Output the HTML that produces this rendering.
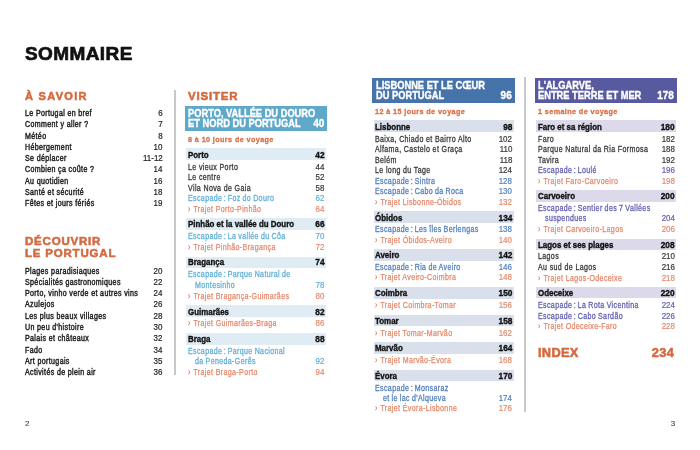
<!DOCTYPE html>
<html><head><meta charset="utf-8"><style>
html,body{margin:0;padding:0;background:#fff;}
body{width:700px;height:450px;position:relative;overflow:hidden;font-family:"Liberation Sans",sans-serif;}
.t{position:absolute;white-space:nowrap;line-height:1;-webkit-text-stroke:0.35px currentColor;}
.r{position:absolute;}
.cv{margin-right:0.6px;}
.wrap{position:absolute;left:0;top:0;width:700px;height:450px;will-change:transform;}
</style></head><body><div class="wrap">
<div class="t" style="left:25.00px;top:44px;font-size:19px;font-weight:bold;color:#111;letter-spacing:0.4px;-webkit-text-stroke-width:0.7px;">SOMMAIRE</div>
<div class="t" style="left:25.00px;top:91px;font-size:11px;font-weight:bold;color:#d5693f;letter-spacing:1.3px;-webkit-text-stroke-width:0.55px;">À SAVOIR</div>
<div class="t" style="left:25.00px;top:109px;font-size:8.6px;color:#222;letter-spacing:0.45px;transform:scaleX(0.82);transform-origin:left top;-webkit-text-stroke-width:0.45px;">Le Portugal en bref</div>
<div class="t" style="right:537.50px;text-align:right;top:109px;font-size:8.4px;color:#222;transform:scaleX(0.95);transform-origin:right top;-webkit-text-stroke-width:0.2px;">6</div>
<div class="t" style="left:25.00px;top:120px;font-size:8.6px;color:#222;letter-spacing:0.45px;transform:scaleX(0.82);transform-origin:left top;-webkit-text-stroke-width:0.45px;">Comment y aller ?</div>
<div class="t" style="right:537.50px;text-align:right;top:120px;font-size:8.4px;color:#222;transform:scaleX(0.95);transform-origin:right top;-webkit-text-stroke-width:0.2px;">7</div>
<div class="t" style="left:25.00px;top:132px;font-size:8.6px;color:#222;letter-spacing:0.45px;transform:scaleX(0.82);transform-origin:left top;-webkit-text-stroke-width:0.45px;">Météo</div>
<div class="t" style="right:537.50px;text-align:right;top:132px;font-size:8.4px;color:#222;transform:scaleX(0.95);transform-origin:right top;-webkit-text-stroke-width:0.2px;">8</div>
<div class="t" style="left:25.00px;top:143px;font-size:8.6px;color:#222;letter-spacing:0.45px;transform:scaleX(0.82);transform-origin:left top;-webkit-text-stroke-width:0.45px;">Hébergement</div>
<div class="t" style="right:537.50px;text-align:right;top:143px;font-size:8.4px;color:#222;transform:scaleX(0.95);transform-origin:right top;-webkit-text-stroke-width:0.2px;">10</div>
<div class="t" style="left:25.00px;top:154px;font-size:8.6px;color:#222;letter-spacing:0.45px;transform:scaleX(0.82);transform-origin:left top;-webkit-text-stroke-width:0.45px;">Se déplacer</div>
<div class="t" style="right:537.50px;text-align:right;top:154px;font-size:8.4px;color:#222;transform:scaleX(0.95);transform-origin:right top;-webkit-text-stroke-width:0.2px;">11-12</div>
<div class="t" style="left:25.00px;top:165px;font-size:8.6px;color:#222;letter-spacing:0.45px;transform:scaleX(0.82);transform-origin:left top;-webkit-text-stroke-width:0.45px;">Combien ça coûte ?</div>
<div class="t" style="right:537.50px;text-align:right;top:165px;font-size:8.4px;color:#222;transform:scaleX(0.95);transform-origin:right top;-webkit-text-stroke-width:0.2px;">14</div>
<div class="t" style="left:25.00px;top:177px;font-size:8.6px;color:#222;letter-spacing:0.45px;transform:scaleX(0.82);transform-origin:left top;-webkit-text-stroke-width:0.45px;">Au quotidien</div>
<div class="t" style="right:537.50px;text-align:right;top:177px;font-size:8.4px;color:#222;transform:scaleX(0.95);transform-origin:right top;-webkit-text-stroke-width:0.2px;">16</div>
<div class="t" style="left:25.00px;top:188px;font-size:8.6px;color:#222;letter-spacing:0.45px;transform:scaleX(0.82);transform-origin:left top;-webkit-text-stroke-width:0.45px;">Santé et sécurité</div>
<div class="t" style="right:537.50px;text-align:right;top:188px;font-size:8.4px;color:#222;transform:scaleX(0.95);transform-origin:right top;-webkit-text-stroke-width:0.2px;">18</div>
<div class="t" style="left:25.00px;top:199px;font-size:8.6px;color:#222;letter-spacing:0.45px;transform:scaleX(0.82);transform-origin:left top;-webkit-text-stroke-width:0.45px;">Fêtes et jours fériés</div>
<div class="t" style="right:537.50px;text-align:right;top:199px;font-size:8.4px;color:#222;transform:scaleX(0.95);transform-origin:right top;-webkit-text-stroke-width:0.2px;">19</div>
<div class="t" style="left:25.00px;top:236px;font-size:11.5px;font-weight:bold;color:#d5693f;letter-spacing:0.8px;-webkit-text-stroke-width:0.55px;">DÉCOUVRIR</div>
<div class="t" style="left:25.00px;top:248px;font-size:11.5px;font-weight:bold;color:#d5693f;letter-spacing:0.8px;-webkit-text-stroke-width:0.55px;">LE PORTUGAL</div>
<div class="t" style="left:25.00px;top:267px;font-size:8.6px;color:#222;letter-spacing:0.45px;transform:scaleX(0.82);transform-origin:left top;-webkit-text-stroke-width:0.45px;">Plages paradisiaques</div>
<div class="t" style="right:537.50px;text-align:right;top:267px;font-size:8.4px;color:#222;transform:scaleX(0.95);transform-origin:right top;-webkit-text-stroke-width:0.2px;">20</div>
<div class="t" style="left:25.00px;top:278px;font-size:8.6px;color:#222;letter-spacing:0.45px;transform:scaleX(0.82);transform-origin:left top;-webkit-text-stroke-width:0.45px;">Spécialités gastronomiques</div>
<div class="t" style="right:537.50px;text-align:right;top:278px;font-size:8.4px;color:#222;transform:scaleX(0.95);transform-origin:right top;-webkit-text-stroke-width:0.2px;">22</div>
<div class="t" style="left:25.00px;top:289px;font-size:8.6px;color:#222;letter-spacing:0.45px;transform:scaleX(0.82);transform-origin:left top;-webkit-text-stroke-width:0.45px;">Porto, vinho verde et autres vins</div>
<div class="t" style="right:537.50px;text-align:right;top:289px;font-size:8.4px;color:#222;transform:scaleX(0.95);transform-origin:right top;-webkit-text-stroke-width:0.2px;">24</div>
<div class="t" style="left:25.00px;top:300px;font-size:8.6px;color:#222;letter-spacing:0.45px;transform:scaleX(0.82);transform-origin:left top;-webkit-text-stroke-width:0.45px;">Azulejos</div>
<div class="t" style="right:537.50px;text-align:right;top:300px;font-size:8.4px;color:#222;transform:scaleX(0.95);transform-origin:right top;-webkit-text-stroke-width:0.2px;">26</div>
<div class="t" style="left:25.00px;top:312px;font-size:8.6px;color:#222;letter-spacing:0.45px;transform:scaleX(0.82);transform-origin:left top;-webkit-text-stroke-width:0.45px;">Les plus beaux villages</div>
<div class="t" style="right:537.50px;text-align:right;top:312px;font-size:8.4px;color:#222;transform:scaleX(0.95);transform-origin:right top;-webkit-text-stroke-width:0.2px;">28</div>
<div class="t" style="left:25.00px;top:323px;font-size:8.6px;color:#222;letter-spacing:0.45px;transform:scaleX(0.82);transform-origin:left top;-webkit-text-stroke-width:0.45px;">Un peu d'histoire</div>
<div class="t" style="right:537.50px;text-align:right;top:323px;font-size:8.4px;color:#222;transform:scaleX(0.95);transform-origin:right top;-webkit-text-stroke-width:0.2px;">30</div>
<div class="t" style="left:25.00px;top:334px;font-size:8.6px;color:#222;letter-spacing:0.45px;transform:scaleX(0.82);transform-origin:left top;-webkit-text-stroke-width:0.45px;">Palais et châteaux</div>
<div class="t" style="right:537.50px;text-align:right;top:334px;font-size:8.4px;color:#222;transform:scaleX(0.95);transform-origin:right top;-webkit-text-stroke-width:0.2px;">32</div>
<div class="t" style="left:25.00px;top:346px;font-size:8.6px;color:#222;letter-spacing:0.45px;transform:scaleX(0.82);transform-origin:left top;-webkit-text-stroke-width:0.45px;">Fado</div>
<div class="t" style="right:537.50px;text-align:right;top:346px;font-size:8.4px;color:#222;transform:scaleX(0.95);transform-origin:right top;-webkit-text-stroke-width:0.2px;">34</div>
<div class="t" style="left:25.00px;top:357px;font-size:8.6px;color:#222;letter-spacing:0.45px;transform:scaleX(0.82);transform-origin:left top;-webkit-text-stroke-width:0.45px;">Art portugais</div>
<div class="t" style="right:537.50px;text-align:right;top:357px;font-size:8.4px;color:#222;transform:scaleX(0.95);transform-origin:right top;-webkit-text-stroke-width:0.2px;">35</div>
<div class="t" style="left:25.00px;top:368px;font-size:8.6px;color:#222;letter-spacing:0.45px;transform:scaleX(0.82);transform-origin:left top;-webkit-text-stroke-width:0.45px;">Activités de plein air</div>
<div class="t" style="right:537.50px;text-align:right;top:368px;font-size:8.4px;color:#222;transform:scaleX(0.95);transform-origin:right top;-webkit-text-stroke-width:0.2px;">36</div>
<div class="r" style="left:174px;top:90px;width:2.00px;height:285.00px;background:#c8c8c8"></div>
<div class="r" style="left:524px;top:77px;width:2.00px;height:335.00px;background:#c8c8c8"></div>
<div class="t" style="left:188.00px;top:91px;font-size:11.5px;font-weight:bold;color:#d5693f;letter-spacing:0.8px;-webkit-text-stroke-width:0.55px;">VISITER</div>
<div class="r" style="left:185px;top:105.5px;width:142.00px;height:25.00px;background:#5ea9c9"></div>
<div class="t" style="left:188.30px;top:109px;font-size:10px;font-weight:bold;color:#fff;transform:scaleX(0.93);transform-origin:left top;">PORTO, VALLÉE DU DOURO</div>
<div class="t" style="left:188.30px;top:119px;font-size:10px;font-weight:bold;color:#fff;transform:scaleX(0.93);transform-origin:left top;">ET NORD DU PORTUGAL</div>
<div class="t" style="right:375.70px;text-align:right;top:119px;font-size:10px;font-weight:bold;color:#fff;">40</div>
<div class="t" style="left:187.80px;top:136px;font-size:8px;font-weight:bold;color:#db6f47;letter-spacing:0.45px;transform:scaleX(0.9);transform-origin:left top;-webkit-text-stroke-width:0.3px;">8 à 10 jours de voyage</div>
<div class="r" style="left:186.3px;top:148px;width:139.70px;height:12.00px;background:#dfecf3"></div>
<div class="t" style="left:188.00px;top:151px;font-size:8.3px;font-weight:bold;color:#111;transform:scaleX(0.955);transform-origin:left top;">Porto</div>
<div class="t" style="right:375.50px;text-align:right;top:151px;font-size:8.3px;font-weight:bold;color:#111;">42</div>
<div class="t" style="left:188.00px;top:163px;font-size:8.6px;color:#383838;letter-spacing:0.45px;transform:scaleX(0.82);transform-origin:left top;-webkit-text-stroke-width:0.3px;">Le vieux Porto</div>
<div class="t" style="right:375.50px;text-align:right;top:163px;font-size:8.4px;color:#383838;transform:scaleX(0.95);transform-origin:right top;-webkit-text-stroke-width:0.21px;">44</div>
<div class="t" style="left:188.00px;top:173px;font-size:8.6px;color:#383838;letter-spacing:0.45px;transform:scaleX(0.82);transform-origin:left top;-webkit-text-stroke-width:0.3px;">Le centre</div>
<div class="t" style="right:375.50px;text-align:right;top:173px;font-size:8.4px;color:#383838;transform:scaleX(0.95);transform-origin:right top;-webkit-text-stroke-width:0.21px;">52</div>
<div class="t" style="left:188.00px;top:184px;font-size:8.6px;color:#383838;letter-spacing:0.45px;transform:scaleX(0.82);transform-origin:left top;-webkit-text-stroke-width:0.3px;">Vila Nova de Gaia</div>
<div class="t" style="right:375.50px;text-align:right;top:184px;font-size:8.4px;color:#383838;transform:scaleX(0.95);transform-origin:right top;-webkit-text-stroke-width:0.21px;">58</div>
<div class="t" style="left:188.00px;top:194px;font-size:8.6px;color:#62b0d6;word-spacing:-0.4px;letter-spacing:0.45px;transform:scaleX(0.82);transform-origin:left top;-webkit-text-stroke-width:0.3px;">Escapade&#8198;:&#8198;Foz do Douro</div>
<div class="t" style="right:375.50px;text-align:right;top:194px;font-size:8.4px;color:#62b0d6;transform:scaleX(0.95);transform-origin:right top;-webkit-text-stroke-width:0.21px;">62</div>
<div class="t" style="left:188.00px;top:205px;font-size:8.6px;color:#e4876a;letter-spacing:0.45px;transform:scaleX(0.82);transform-origin:left top;-webkit-text-stroke-width:0.25px;"><span class="cv">›</span> Trajet Porto-Pinhão</div>
<div class="t" style="right:375.50px;text-align:right;top:205px;font-size:8.4px;color:#e4876a;transform:scaleX(0.95);transform-origin:right top;-webkit-text-stroke-width:0.175px;">64</div>
<div class="r" style="left:186.3px;top:218px;width:139.70px;height:12.00px;background:#dfecf3"></div>
<div class="t" style="left:188.00px;top:220px;font-size:8.3px;font-weight:bold;color:#111;transform:scaleX(0.955);transform-origin:left top;">Pinhão et la vallée du Douro</div>
<div class="t" style="right:375.50px;text-align:right;top:220px;font-size:8.3px;font-weight:bold;color:#111;">66</div>
<div class="t" style="left:188.00px;top:232px;font-size:8.6px;color:#62b0d6;word-spacing:-0.4px;letter-spacing:0.45px;transform:scaleX(0.82);transform-origin:left top;-webkit-text-stroke-width:0.3px;">Escapade&#8198;:&#8198;La vallée du Côa</div>
<div class="t" style="right:375.50px;text-align:right;top:232px;font-size:8.4px;color:#62b0d6;transform:scaleX(0.95);transform-origin:right top;-webkit-text-stroke-width:0.21px;">70</div>
<div class="t" style="left:188.00px;top:243px;font-size:8.6px;color:#e4876a;letter-spacing:0.45px;transform:scaleX(0.82);transform-origin:left top;-webkit-text-stroke-width:0.25px;"><span class="cv">›</span> Trajet Pinhão-Bragança</div>
<div class="t" style="right:375.50px;text-align:right;top:243px;font-size:8.4px;color:#e4876a;transform:scaleX(0.95);transform-origin:right top;-webkit-text-stroke-width:0.175px;">72</div>
<div class="r" style="left:186.3px;top:257px;width:139.70px;height:11.00px;background:#dfecf3"></div>
<div class="t" style="left:188.00px;top:258px;font-size:8.3px;font-weight:bold;color:#111;transform:scaleX(0.955);transform-origin:left top;">Bragança</div>
<div class="t" style="right:375.50px;text-align:right;top:258px;font-size:8.3px;font-weight:bold;color:#111;">74</div>
<div class="t" style="left:188.00px;top:270px;font-size:8.6px;color:#62b0d6;word-spacing:-0.4px;letter-spacing:0.45px;transform:scaleX(0.82);transform-origin:left top;-webkit-text-stroke-width:0.3px;">Escapade&#8198;:&#8198;Parque Natural de</div>
<div class="t" style="left:194.80px;top:281px;font-size:8.6px;color:#62b0d6;word-spacing:-0.4px;letter-spacing:0.45px;transform:scaleX(0.82);transform-origin:left top;-webkit-text-stroke-width:0.3px;">Montesinho</div>
<div class="t" style="right:375.50px;text-align:right;top:281px;font-size:8.4px;color:#62b0d6;transform:scaleX(0.95);transform-origin:right top;-webkit-text-stroke-width:0.21px;">78</div>
<div class="t" style="left:188.00px;top:292px;font-size:8.6px;color:#e4876a;letter-spacing:0.45px;transform:scaleX(0.82);transform-origin:left top;-webkit-text-stroke-width:0.25px;"><span class="cv">›</span> Trajet Bragança-Guimarães</div>
<div class="t" style="right:375.50px;text-align:right;top:292px;font-size:8.4px;color:#e4876a;transform:scaleX(0.95);transform-origin:right top;-webkit-text-stroke-width:0.175px;">80</div>
<div class="r" style="left:186.3px;top:305px;width:139.70px;height:12.00px;background:#dfecf3"></div>
<div class="t" style="left:188.00px;top:308px;font-size:8.3px;font-weight:bold;color:#111;transform:scaleX(0.955);transform-origin:left top;">Guimarães</div>
<div class="t" style="right:375.50px;text-align:right;top:308px;font-size:8.3px;font-weight:bold;color:#111;">82</div>
<div class="t" style="left:188.00px;top:319px;font-size:8.6px;color:#e4876a;letter-spacing:0.45px;transform:scaleX(0.82);transform-origin:left top;-webkit-text-stroke-width:0.25px;"><span class="cv">›</span> Trajet Guimarães-Braga</div>
<div class="t" style="right:375.50px;text-align:right;top:319px;font-size:8.4px;color:#e4876a;transform:scaleX(0.95);transform-origin:right top;-webkit-text-stroke-width:0.175px;">86</div>
<div class="r" style="left:186.3px;top:333px;width:139.70px;height:12.00px;background:#dfecf3"></div>
<div class="t" style="left:188.00px;top:335px;font-size:8.3px;font-weight:bold;color:#111;transform:scaleX(0.955);transform-origin:left top;">Braga</div>
<div class="t" style="right:375.50px;text-align:right;top:335px;font-size:8.3px;font-weight:bold;color:#111;">88</div>
<div class="t" style="left:188.00px;top:347px;font-size:8.6px;color:#62b0d6;word-spacing:-0.4px;letter-spacing:0.45px;transform:scaleX(0.82);transform-origin:left top;-webkit-text-stroke-width:0.3px;">Escapade&#8198;:&#8198;Parque Nacional</div>
<div class="t" style="left:194.80px;top:357px;font-size:8.6px;color:#62b0d6;word-spacing:-0.4px;letter-spacing:0.45px;transform:scaleX(0.82);transform-origin:left top;-webkit-text-stroke-width:0.3px;">da Peneda-Gerês</div>
<div class="t" style="right:375.50px;text-align:right;top:357px;font-size:8.4px;color:#62b0d6;transform:scaleX(0.95);transform-origin:right top;-webkit-text-stroke-width:0.21px;">92</div>
<div class="t" style="left:188.00px;top:368px;font-size:8.6px;color:#e4876a;letter-spacing:0.45px;transform:scaleX(0.82);transform-origin:left top;-webkit-text-stroke-width:0.25px;"><span class="cv">›</span> Trajet Braga-Porto</div>
<div class="t" style="right:375.50px;text-align:right;top:368px;font-size:8.4px;color:#e4876a;transform:scaleX(0.95);transform-origin:right top;-webkit-text-stroke-width:0.175px;">94</div>
<div class="r" style="left:372.3px;top:77.8px;width:142.50px;height:25.00px;background:#4773ab"></div>
<div class="t" style="left:375.60px;top:81px;font-size:10px;font-weight:bold;color:#fff;transform:scaleX(0.93);transform-origin:left top;">LISBONNE ET LE CŒUR</div>
<div class="t" style="left:375.60px;top:91px;font-size:10px;font-weight:bold;color:#fff;transform:scaleX(0.93);transform-origin:left top;">DU PORTUGAL</div>
<div class="t" style="right:188.30px;text-align:right;top:91px;font-size:10px;font-weight:bold;color:#fff;">96</div>
<div class="t" style="left:375.30px;top:108px;font-size:8px;font-weight:bold;color:#db6f47;letter-spacing:0.45px;transform:scaleX(0.9);transform-origin:left top;-webkit-text-stroke-width:0.3px;">12 à 15 jours de voyage</div>
<div class="r" style="left:373.7px;top:120px;width:139.90px;height:12.00px;background:#d9e0ec"></div>
<div class="t" style="left:375.30px;top:123px;font-size:8.3px;font-weight:bold;color:#111;transform:scaleX(0.955);transform-origin:left top;">Lisbonne</div>
<div class="t" style="right:187.60px;text-align:right;top:123px;font-size:8.3px;font-weight:bold;color:#111;">98</div>
<div class="t" style="left:375.30px;top:135px;font-size:8.6px;color:#383838;letter-spacing:0.45px;transform:scaleX(0.82);transform-origin:left top;-webkit-text-stroke-width:0.3px;">Baixa, Chiado et Bairro Alto</div>
<div class="t" style="right:187.60px;text-align:right;top:135px;font-size:8.4px;color:#383838;transform:scaleX(0.95);transform-origin:right top;-webkit-text-stroke-width:0.21px;">102</div>
<div class="t" style="left:375.30px;top:145px;font-size:8.6px;color:#383838;letter-spacing:0.45px;transform:scaleX(0.82);transform-origin:left top;-webkit-text-stroke-width:0.3px;">Alfama, Castelo et Graça</div>
<div class="t" style="right:187.60px;text-align:right;top:145px;font-size:8.4px;color:#383838;transform:scaleX(0.95);transform-origin:right top;-webkit-text-stroke-width:0.21px;">110</div>
<div class="t" style="left:375.30px;top:156px;font-size:8.6px;color:#383838;letter-spacing:0.45px;transform:scaleX(0.82);transform-origin:left top;-webkit-text-stroke-width:0.3px;">Belém</div>
<div class="t" style="right:187.60px;text-align:right;top:156px;font-size:8.4px;color:#383838;transform:scaleX(0.95);transform-origin:right top;-webkit-text-stroke-width:0.21px;">118</div>
<div class="t" style="left:375.30px;top:166px;font-size:8.6px;color:#383838;letter-spacing:0.45px;transform:scaleX(0.82);transform-origin:left top;-webkit-text-stroke-width:0.3px;">Le long du Tage</div>
<div class="t" style="right:187.60px;text-align:right;top:166px;font-size:8.4px;color:#383838;transform:scaleX(0.95);transform-origin:right top;-webkit-text-stroke-width:0.21px;">124</div>
<div class="t" style="left:375.30px;top:177px;font-size:8.6px;color:#5580bf;word-spacing:-0.4px;letter-spacing:0.45px;transform:scaleX(0.82);transform-origin:left top;-webkit-text-stroke-width:0.3px;">Escapade&#8198;:&#8198;Sintra</div>
<div class="t" style="right:187.60px;text-align:right;top:177px;font-size:8.4px;color:#5580bf;transform:scaleX(0.95);transform-origin:right top;-webkit-text-stroke-width:0.21px;">128</div>
<div class="t" style="left:375.30px;top:187px;font-size:8.6px;color:#5580bf;word-spacing:-0.4px;letter-spacing:0.45px;transform:scaleX(0.82);transform-origin:left top;-webkit-text-stroke-width:0.3px;">Escapade&#8198;:&#8198;Cabo da Roca</div>
<div class="t" style="right:187.60px;text-align:right;top:187px;font-size:8.4px;color:#5580bf;transform:scaleX(0.95);transform-origin:right top;-webkit-text-stroke-width:0.21px;">130</div>
<div class="t" style="left:375.30px;top:198px;font-size:8.6px;color:#e4876a;letter-spacing:0.45px;transform:scaleX(0.82);transform-origin:left top;-webkit-text-stroke-width:0.25px;"><span class="cv">›</span> Trajet Lisbonne-Óbidos</div>
<div class="t" style="right:187.60px;text-align:right;top:198px;font-size:8.4px;color:#e4876a;transform:scaleX(0.95);transform-origin:right top;-webkit-text-stroke-width:0.175px;">132</div>
<div class="r" style="left:373.7px;top:211px;width:139.90px;height:12.00px;background:#d9e0ec"></div>
<div class="t" style="left:375.30px;top:214px;font-size:8.3px;font-weight:bold;color:#111;transform:scaleX(0.955);transform-origin:left top;">Óbidos</div>
<div class="t" style="right:187.60px;text-align:right;top:214px;font-size:8.3px;font-weight:bold;color:#111;">134</div>
<div class="t" style="left:375.30px;top:225px;font-size:8.6px;color:#5580bf;word-spacing:-0.4px;letter-spacing:0.45px;transform:scaleX(0.82);transform-origin:left top;-webkit-text-stroke-width:0.3px;">Escapade&#8198;:&#8198;Les îles Berlengas</div>
<div class="t" style="right:187.60px;text-align:right;top:225px;font-size:8.4px;color:#5580bf;transform:scaleX(0.95);transform-origin:right top;-webkit-text-stroke-width:0.21px;">138</div>
<div class="t" style="left:375.30px;top:236px;font-size:8.6px;color:#e4876a;letter-spacing:0.45px;transform:scaleX(0.82);transform-origin:left top;-webkit-text-stroke-width:0.25px;"><span class="cv">›</span> Trajet Óbidos-Aveiro</div>
<div class="t" style="right:187.60px;text-align:right;top:236px;font-size:8.4px;color:#e4876a;transform:scaleX(0.95);transform-origin:right top;-webkit-text-stroke-width:0.175px;">140</div>
<div class="r" style="left:373.7px;top:249px;width:139.90px;height:12.00px;background:#d9e0ec"></div>
<div class="t" style="left:375.30px;top:251px;font-size:8.3px;font-weight:bold;color:#111;transform:scaleX(0.955);transform-origin:left top;">Aveiro</div>
<div class="t" style="right:187.60px;text-align:right;top:251px;font-size:8.3px;font-weight:bold;color:#111;">142</div>
<div class="t" style="left:375.30px;top:263px;font-size:8.6px;color:#5580bf;word-spacing:-0.4px;letter-spacing:0.45px;transform:scaleX(0.82);transform-origin:left top;-webkit-text-stroke-width:0.3px;">Escapade&#8198;:&#8198;Ria de Aveiro</div>
<div class="t" style="right:187.60px;text-align:right;top:263px;font-size:8.4px;color:#5580bf;transform:scaleX(0.95);transform-origin:right top;-webkit-text-stroke-width:0.21px;">146</div>
<div class="t" style="left:375.30px;top:273px;font-size:8.6px;color:#e4876a;letter-spacing:0.45px;transform:scaleX(0.82);transform-origin:left top;-webkit-text-stroke-width:0.25px;"><span class="cv">›</span> Trajet Aveiro-Coimbra</div>
<div class="t" style="right:187.60px;text-align:right;top:273px;font-size:8.4px;color:#e4876a;transform:scaleX(0.95);transform-origin:right top;-webkit-text-stroke-width:0.175px;">148</div>
<div class="r" style="left:373.7px;top:287px;width:139.90px;height:12.00px;background:#d9e0ec"></div>
<div class="t" style="left:375.30px;top:289px;font-size:8.3px;font-weight:bold;color:#111;transform:scaleX(0.955);transform-origin:left top;">Coimbra</div>
<div class="t" style="right:187.60px;text-align:right;top:289px;font-size:8.3px;font-weight:bold;color:#111;">150</div>
<div class="t" style="left:375.30px;top:301px;font-size:8.6px;color:#e4876a;letter-spacing:0.45px;transform:scaleX(0.82);transform-origin:left top;-webkit-text-stroke-width:0.25px;"><span class="cv">›</span> Trajet Coimbra-Tomar</div>
<div class="t" style="right:187.60px;text-align:right;top:301px;font-size:8.4px;color:#e4876a;transform:scaleX(0.95);transform-origin:right top;-webkit-text-stroke-width:0.175px;">156</div>
<div class="r" style="left:373.7px;top:315px;width:139.90px;height:11.00px;background:#d9e0ec"></div>
<div class="t" style="left:375.30px;top:317px;font-size:8.3px;font-weight:bold;color:#111;transform:scaleX(0.955);transform-origin:left top;">Tomar</div>
<div class="t" style="right:187.60px;text-align:right;top:317px;font-size:8.3px;font-weight:bold;color:#111;">158</div>
<div class="t" style="left:375.30px;top:329px;font-size:8.6px;color:#e4876a;letter-spacing:0.45px;transform:scaleX(0.82);transform-origin:left top;-webkit-text-stroke-width:0.25px;"><span class="cv">›</span> Trajet Tomar-Marvão</div>
<div class="t" style="right:187.60px;text-align:right;top:329px;font-size:8.4px;color:#e4876a;transform:scaleX(0.95);transform-origin:right top;-webkit-text-stroke-width:0.175px;">162</div>
<div class="r" style="left:373.7px;top:342px;width:139.90px;height:12.00px;background:#d9e0ec"></div>
<div class="t" style="left:375.30px;top:344px;font-size:8.3px;font-weight:bold;color:#111;transform:scaleX(0.955);transform-origin:left top;">Marvão</div>
<div class="t" style="right:187.60px;text-align:right;top:344px;font-size:8.3px;font-weight:bold;color:#111;">164</div>
<div class="t" style="left:375.30px;top:356px;font-size:8.6px;color:#e4876a;letter-spacing:0.45px;transform:scaleX(0.82);transform-origin:left top;-webkit-text-stroke-width:0.25px;"><span class="cv">›</span> Trajet Marvão-Évora</div>
<div class="t" style="right:187.60px;text-align:right;top:356px;font-size:8.4px;color:#e4876a;transform:scaleX(0.95);transform-origin:right top;-webkit-text-stroke-width:0.175px;">168</div>
<div class="r" style="left:373.7px;top:370px;width:139.90px;height:11.00px;background:#d9e0ec"></div>
<div class="t" style="left:375.30px;top:372px;font-size:8.3px;font-weight:bold;color:#111;transform:scaleX(0.955);transform-origin:left top;">Évora</div>
<div class="t" style="right:187.60px;text-align:right;top:372px;font-size:8.3px;font-weight:bold;color:#111;">170</div>
<div class="t" style="left:375.30px;top:384px;font-size:8.6px;color:#5580bf;word-spacing:-0.4px;letter-spacing:0.45px;transform:scaleX(0.82);transform-origin:left top;-webkit-text-stroke-width:0.3px;">Escapade&#8198;:&#8198;Monsaraz</div>
<div class="t" style="left:382.80px;top:394px;font-size:8.6px;color:#5580bf;word-spacing:-0.4px;letter-spacing:0.45px;transform:scaleX(0.82);transform-origin:left top;-webkit-text-stroke-width:0.3px;">et le lac d'Alqueva</div>
<div class="t" style="right:187.60px;text-align:right;top:394px;font-size:8.4px;color:#5580bf;transform:scaleX(0.95);transform-origin:right top;-webkit-text-stroke-width:0.21px;">174</div>
<div class="t" style="left:375.30px;top:404px;font-size:8.6px;color:#e4876a;letter-spacing:0.45px;transform:scaleX(0.82);transform-origin:left top;-webkit-text-stroke-width:0.25px;"><span class="cv">›</span> Trajet Évora-Lisbonne</div>
<div class="t" style="right:187.60px;text-align:right;top:404px;font-size:8.4px;color:#e4876a;transform:scaleX(0.95);transform-origin:right top;-webkit-text-stroke-width:0.175px;">176</div>
<div class="r" style="left:535px;top:77.8px;width:142.10px;height:25.10px;background:#585aa0"></div>
<div class="t" style="left:537.80px;top:81px;font-size:10px;font-weight:bold;color:#fff;transform:scaleX(0.93);transform-origin:left top;">L'ALGARVE,</div>
<div class="t" style="left:537.80px;top:91px;font-size:10px;font-weight:bold;color:#fff;transform:scaleX(0.93);transform-origin:left top;">ENTRE TERRE ET MER</div>
<div class="t" style="right:26.10px;text-align:right;top:91px;font-size:10px;font-weight:bold;color:#fff;">178</div>
<div class="t" style="left:538.00px;top:108px;font-size:8px;font-weight:bold;color:#db6f47;letter-spacing:0.45px;transform:scaleX(0.9);transform-origin:left top;-webkit-text-stroke-width:0.3px;">1 semaine de voyage</div>
<div class="r" style="left:535.7px;top:120px;width:140.10px;height:12.00px;background:#dcdaea"></div>
<div class="t" style="left:538.00px;top:123px;font-size:8.3px;font-weight:bold;color:#111;transform:scaleX(0.955);transform-origin:left top;">Faro et sa région</div>
<div class="t" style="right:25.50px;text-align:right;top:123px;font-size:8.3px;font-weight:bold;color:#111;">180</div>
<div class="t" style="left:538.00px;top:135px;font-size:8.6px;color:#383838;letter-spacing:0.45px;transform:scaleX(0.82);transform-origin:left top;-webkit-text-stroke-width:0.3px;">Faro</div>
<div class="t" style="right:25.50px;text-align:right;top:135px;font-size:8.4px;color:#383838;transform:scaleX(0.95);transform-origin:right top;-webkit-text-stroke-width:0.21px;">182</div>
<div class="t" style="left:538.00px;top:145px;font-size:8.6px;color:#383838;letter-spacing:0.45px;transform:scaleX(0.82);transform-origin:left top;-webkit-text-stroke-width:0.3px;">Parque Natural da Ria Formosa</div>
<div class="t" style="right:25.50px;text-align:right;top:145px;font-size:8.4px;color:#383838;transform:scaleX(0.95);transform-origin:right top;-webkit-text-stroke-width:0.21px;">188</div>
<div class="t" style="left:538.00px;top:156px;font-size:8.6px;color:#383838;letter-spacing:0.45px;transform:scaleX(0.82);transform-origin:left top;-webkit-text-stroke-width:0.3px;">Tavira</div>
<div class="t" style="right:25.50px;text-align:right;top:156px;font-size:8.4px;color:#383838;transform:scaleX(0.95);transform-origin:right top;-webkit-text-stroke-width:0.21px;">192</div>
<div class="t" style="left:538.00px;top:166px;font-size:8.6px;color:#6462b2;word-spacing:-0.4px;letter-spacing:0.45px;transform:scaleX(0.82);transform-origin:left top;-webkit-text-stroke-width:0.3px;">Escapade&#8198;:&#8198;Loulé</div>
<div class="t" style="right:25.50px;text-align:right;top:166px;font-size:8.4px;color:#6462b2;transform:scaleX(0.95);transform-origin:right top;-webkit-text-stroke-width:0.21px;">196</div>
<div class="t" style="left:538.00px;top:177px;font-size:8.6px;color:#e4876a;letter-spacing:0.45px;transform:scaleX(0.82);transform-origin:left top;-webkit-text-stroke-width:0.25px;"><span class="cv">›</span> Trajet Faro-Carvoeiro</div>
<div class="t" style="right:25.50px;text-align:right;top:177px;font-size:8.4px;color:#e4876a;transform:scaleX(0.95);transform-origin:right top;-webkit-text-stroke-width:0.175px;">198</div>
<div class="r" style="left:535.7px;top:190px;width:140.10px;height:12.00px;background:#dcdaea"></div>
<div class="t" style="left:538.00px;top:192px;font-size:8.3px;font-weight:bold;color:#111;transform:scaleX(0.955);transform-origin:left top;">Carvoeiro</div>
<div class="t" style="right:25.50px;text-align:right;top:192px;font-size:8.3px;font-weight:bold;color:#111;">200</div>
<div class="t" style="left:538.00px;top:204px;font-size:8.6px;color:#6462b2;word-spacing:-0.4px;letter-spacing:0.45px;transform:scaleX(0.82);transform-origin:left top;-webkit-text-stroke-width:0.3px;">Escapade&#8198;:&#8198;Sentier des 7 Vallées</div>
<div class="t" style="left:545.00px;top:214px;font-size:8.6px;color:#6462b2;word-spacing:-0.4px;letter-spacing:0.45px;transform:scaleX(0.82);transform-origin:left top;-webkit-text-stroke-width:0.3px;">suspendues</div>
<div class="t" style="right:25.50px;text-align:right;top:214px;font-size:8.4px;color:#6462b2;transform:scaleX(0.95);transform-origin:right top;-webkit-text-stroke-width:0.21px;">204</div>
<div class="t" style="left:538.00px;top:225px;font-size:8.6px;color:#e4876a;letter-spacing:0.45px;transform:scaleX(0.82);transform-origin:left top;-webkit-text-stroke-width:0.25px;"><span class="cv">›</span> Trajet Carvoeiro-Lagos</div>
<div class="t" style="right:25.50px;text-align:right;top:225px;font-size:8.4px;color:#e4876a;transform:scaleX(0.95);transform-origin:right top;-webkit-text-stroke-width:0.175px;">206</div>
<div class="r" style="left:535.7px;top:239px;width:140.10px;height:11.00px;background:#dcdaea"></div>
<div class="t" style="left:538.00px;top:241px;font-size:8.3px;font-weight:bold;color:#111;transform:scaleX(0.955);transform-origin:left top;">Lagos et ses plages</div>
<div class="t" style="right:25.50px;text-align:right;top:241px;font-size:8.3px;font-weight:bold;color:#111;">208</div>
<div class="t" style="left:538.00px;top:252px;font-size:8.6px;color:#383838;letter-spacing:0.45px;transform:scaleX(0.82);transform-origin:left top;-webkit-text-stroke-width:0.3px;">Lagos</div>
<div class="t" style="right:25.50px;text-align:right;top:252px;font-size:8.4px;color:#383838;transform:scaleX(0.95);transform-origin:right top;-webkit-text-stroke-width:0.21px;">210</div>
<div class="t" style="left:538.00px;top:263px;font-size:8.6px;color:#383838;letter-spacing:0.45px;transform:scaleX(0.82);transform-origin:left top;-webkit-text-stroke-width:0.3px;">Au sud de Lagos</div>
<div class="t" style="right:25.50px;text-align:right;top:263px;font-size:8.4px;color:#383838;transform:scaleX(0.95);transform-origin:right top;-webkit-text-stroke-width:0.21px;">216</div>
<div class="t" style="left:538.00px;top:274px;font-size:8.6px;color:#e4876a;letter-spacing:0.45px;transform:scaleX(0.82);transform-origin:left top;-webkit-text-stroke-width:0.25px;"><span class="cv">›</span> Trajet Lagos-Odeceixe</div>
<div class="t" style="right:25.50px;text-align:right;top:274px;font-size:8.4px;color:#e4876a;transform:scaleX(0.95);transform-origin:right top;-webkit-text-stroke-width:0.175px;">218</div>
<div class="r" style="left:535.7px;top:287px;width:140.10px;height:11.00px;background:#dcdaea"></div>
<div class="t" style="left:538.00px;top:289px;font-size:8.3px;font-weight:bold;color:#111;transform:scaleX(0.955);transform-origin:left top;">Odeceixe</div>
<div class="t" style="right:25.50px;text-align:right;top:289px;font-size:8.3px;font-weight:bold;color:#111;">220</div>
<div class="t" style="left:538.00px;top:301px;font-size:8.6px;color:#6462b2;word-spacing:-0.4px;letter-spacing:0.45px;transform:scaleX(0.82);transform-origin:left top;-webkit-text-stroke-width:0.3px;">Escapade&#8198;:&#8198;La Rota Vicentina</div>
<div class="t" style="right:25.50px;text-align:right;top:301px;font-size:8.4px;color:#6462b2;transform:scaleX(0.95);transform-origin:right top;-webkit-text-stroke-width:0.21px;">224</div>
<div class="t" style="left:538.00px;top:312px;font-size:8.6px;color:#6462b2;word-spacing:-0.4px;letter-spacing:0.45px;transform:scaleX(0.82);transform-origin:left top;-webkit-text-stroke-width:0.3px;">Escapade&#8198;:&#8198;Cabo Sardão</div>
<div class="t" style="right:25.50px;text-align:right;top:312px;font-size:8.4px;color:#6462b2;transform:scaleX(0.95);transform-origin:right top;-webkit-text-stroke-width:0.21px;">226</div>
<div class="t" style="left:538.00px;top:322px;font-size:8.6px;color:#e4876a;letter-spacing:0.45px;transform:scaleX(0.82);transform-origin:left top;-webkit-text-stroke-width:0.25px;"><span class="cv">›</span> Trajet Odeceixe-Faro</div>
<div class="t" style="right:25.50px;text-align:right;top:322px;font-size:8.4px;color:#e4876a;transform:scaleX(0.95);transform-origin:right top;-webkit-text-stroke-width:0.175px;">228</div>
<div class="t" style="left:538.00px;top:347px;font-size:12.8px;font-weight:bold;color:#d5693f;letter-spacing:0.3px;-webkit-text-stroke-width:0.55px;">INDEX</div>
<div class="t" style="right:25.50px;text-align:right;top:347px;font-size:12.8px;font-weight:bold;color:#d5693f;letter-spacing:0.5px;-webkit-text-stroke-width:0.55px;">234</div>
<div class="t" style="left:25.00px;top:420px;font-size:8px;color:#444;-webkit-text-stroke-width:0.1px;">2</div>
<div class="t" style="right:24.70px;text-align:right;top:420px;font-size:8px;color:#444;-webkit-text-stroke-width:0.1px;">3</div>
</div></body></html>
